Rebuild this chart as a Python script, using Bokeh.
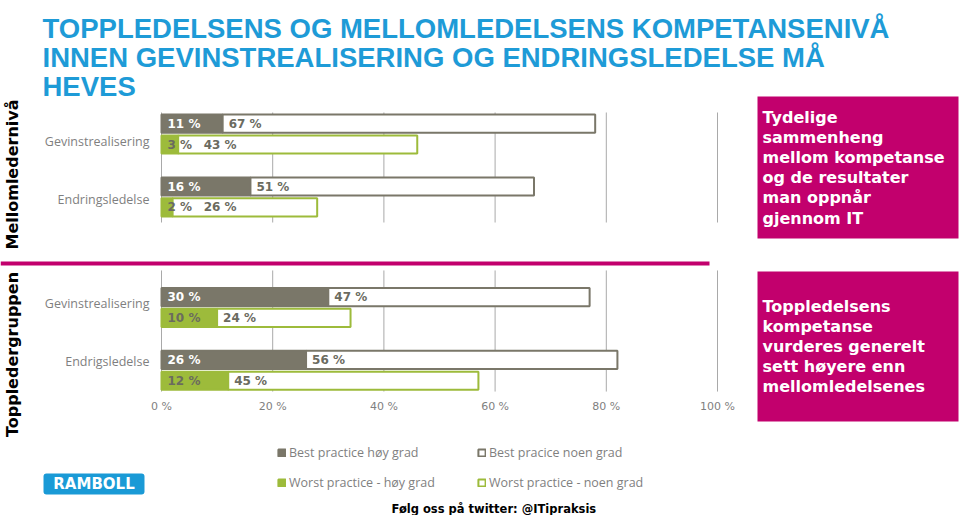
import math
from bokeh.plotting import figure
from bokeh.models import (ColumnDataSource, FactorRange, Range1d,
                          Label, BoxAnnotation, Legend, LegendItem)
from bokeh.transform import dodge
from bokeh.core.properties import value
from bokeh.embed import file_html
from bokeh.resources import INLINE

# ---------------- data ----------------
title_lines = ["TOPPLEDELSENS OG MELLOMLEDELSENS KOMPETANSENIVÅ",
               "INNEN GEVINSTREALISERING OG ENDRINGSLEDELSE MÅ",
               "HEVES"]
panels = ["Mellomledernivå", "Toppledergruppen"]
categories_mellom = ["Gevinstrealisering", "Endringsledelse"]
categories_topp = ["Gevinstrealisering", "Endrigsledelse"]
best_hoy_mellom = [11, 16]
best_noen_mellom = [67, 51]
worst_hoy_mellom = [3, 2]
worst_noen_mellom = [43, 26]
best_hoy_topp = [30, 26]
best_noen_topp = [47, 56]
worst_hoy_topp = [10, 12]
worst_noen_topp = [24, 45]
x_ticks = [0, 20, 40, 60, 80, 100]
x_tick_labels = [f"{t} %" for t in x_ticks]
series_names = ["Best practice høy grad", "Best pracice noen grad",
                "Worst practice - høy grad", "Worst practice - noen grad"]
box_texts = [["Tydelige", "sammenheng", "mellom kompetanse", "og de resultater",
              "man oppnår", "gjennom IT"],
             ["Toppledelsens", "kompetanse", "vurderes generelt", "sett høyere enn",
              "mellomledelsenes"]]
footer_text = "Følg oss på twitter: @ITipraksis"
logo_text = "RAMBOLL"

# ---------------- style / layout ----------------
W, H = 960, 515
X0_PX, PX_PER_PCT = 161.0, 5.56           # where 0 % sits, and px per percent
U = 62.8                                  # px per category unit
GROUP_PAD = 0.762
TOP_CENTER_PX = 133.4                     # centre of first category
CAT_LABEL_DY = [8, 3, -4, -9]             # fine vertical nudges of category labels (px)
DARK = "#7a7769"
GREEN = "#9dbb3b"
MAGENTA = "#c2006d"
BLUE = "#1e9bd7"
GRID = "#a9a9a9"
LABEL_GRAY = "#6b6b5f"
AXIS_GRAY = "#7f7f7f"
BAR_H = 0.29
MIN_LABEL_POS = 6.5

# ---------------- derived tables ----------------
factors_mellom = [(panels[0], c) for c in categories_mellom]
factors_topp = [(panels[1], c) for c in categories_topp]
all_f = factors_mellom + factors_topp
bh = best_hoy_mellom + best_hoy_topp
bn = best_noen_mellom + best_noen_topp
wh = worst_hoy_mellom + worst_hoy_topp
wn = worst_noen_mellom + worst_noen_topp

src = ColumnDataSource(dict(
    f=all_f, cat=[c for _, c in all_f], cat_dy=CAT_LABEL_DY,
    bh=bh, bend=[a + b for a, b in zip(bh, bn)],
    wh=wh, wend=[a + b for a, b in zip(wh, wn)],
    bh_lbl=[f"{v} %" for v in bh], bn_lbl=[f"{v} %" for v in bn],
    wh_lbl=[f"{v} %" for v in wh], wn_lbl=[f"{v} %" for v in wn],
    bn_x=[max(v, MIN_LABEL_POS) for v in bh], wn_x=[max(v, MIN_LABEL_POS) for v in wh],
))

y_factors = list(reversed(all_f))
Y_SPAN = len(y_factors) + GROUP_PAD * (len(panels) - 1)
PAD_EACH = (H / U - Y_SPAN) / 2           # absolute padding applied on each end
yr = FactorRange(factors=y_factors, factor_padding=0, group_padding=GROUP_PAD,
                 range_padding=PAD_EACH, range_padding_units="absolute")
Y_START, Y_END = -PAD_EACH, Y_SPAN + PAD_EACH
SHIFT = ((PAD_EACH + 0.5) * U - TOP_CENTER_PX) / U

XS = -X0_PX / PX_PER_PCT
XE = XS + W / PX_PER_PCT


def cx(x):
    return XS + x / PX_PER_PCT


def cy(y):
    return Y_END - y / U


def dy(px):
    """offset (px, downward) from a category centre -> dodge value"""
    return SHIFT - px / U


p = figure(width=W, height=H, x_range=Range1d(XS, XE), y_range=yr,
           output_backend="svg", toolbar_location=None, title=None,
           min_border=0, x_axis_type=None, y_axis_type=None)
p.outline_line_color = None
p.background_fill_color = "white"
p.border_fill_color = "white"
p.grid.visible = False

# grid lines drawn per panel
for facs, top_px, bot_px in [(factors_mellom, -21.4, 25.8), (factors_topp, -36.9, 21.4)]:
    gs = ColumnDataSource(dict(x=x_ticks, top=[facs[0]] * len(x_ticks),
                               bot=[facs[-1]] * len(x_ticks)))
    p.segment(x0="x", x1="x", y0=dodge("top", dy(top_px), range=yr),
              y1=dodge("bot", dy(bot_px), range=yr), source=gs,
              line_color=GRID, line_width=1)

# category labels (left of 0 %)
p.text(x=0, y=dodge("f", dy(0), range=yr), text="cat", source=src, x_offset=-12,
       y_offset="cat_dy", text_align="right", text_baseline="middle",
       text_font=value("Open Sans"), text_font_size="12.5px", text_color=AXIS_GRAY)

# x tick labels
ts = ColumnDataSource(dict(x=x_ticks, lbl=x_tick_labels, f=[all_f[-1]] * len(x_ticks)))
p.text(x="x", y=dodge("f", dy(36.5), range=yr), text="lbl", source=ts,
       text_align="center", text_baseline="middle", text_font=value("DejaVu Sans"),
       text_font_size="11px", text_color=AXIS_GRAY)

# bars
B_OFF, W_OFF = dy(-10.2), dy(10.6)
r_bh = p.hbar(y=dodge("f", B_OFF, range=yr), left=0, right="bh", height=BAR_H, source=src,
              fill_color=DARK, line_color=DARK, line_width=2)
r_bn = p.hbar(y=dodge("f", B_OFF, range=yr), left="bh", right="bend", height=BAR_H, source=src,
              fill_color="white", line_color=DARK, line_width=2)
r_wh = p.hbar(y=dodge("f", W_OFF, range=yr), left=0, right="wh", height=BAR_H, source=src,
              fill_color=GREEN, line_color=GREEN, line_width=2)
r_wn = p.hbar(y=dodge("f", W_OFF, range=yr), left="wh", right="wend", height=BAR_H, source=src,
              fill_color="white", line_color=GREEN, line_width=2)

lbl_kw = dict(source=src, x_offset=6, text_baseline="middle", text_align="left",
              text_font=value("DejaVu Sans"), text_font_style="bold", text_font_size="12px")
p.text(x=0, y=dodge("f", B_OFF, range=yr), text="bh_lbl", text_color="white", **lbl_kw)
p.text(x="bn_x", y=dodge("f", B_OFF, range=yr), text="bn_lbl", text_color=LABEL_GRAY, **lbl_kw)
p.text(x=0, y=dodge("f", W_OFF, range=yr), text="wh_lbl", text_color=LABEL_GRAY, **lbl_kw)
p.text(x="wn_x", y=dodge("f", W_OFF, range=yr), text="wn_lbl", text_color=LABEL_GRAY, **lbl_kw)

# title
for i, t in enumerate(title_lines):
    p.add_layout(Label(x=cx(42), y=cy(28 + 29 * i), text=t, text_font="Liberation Sans",
                       text_font_style="bold", text_font_size="27.5px", text_color=BLUE,
                       text_baseline="alphabetic", text_align="left"))

# panel names (rotated)
for name, yc in zip(panels, [174, 354]):
    p.add_layout(Label(x=cx(12), y=cy(yc), text=name, angle=math.pi / 2,
                       text_font="DejaVu Sans", text_font_style="bold",
                       text_font_size="16px", text_color="black",
                       text_align="center", text_baseline="middle"))

# magenta separator
p.add_layout(BoxAnnotation(left=cx(0), right=cx(709), top=cy(261), bottom=cy(265),
                           fill_color=MAGENTA, fill_alpha=1, line_color=None))

# magenta boxes with text
for lines, (top, bot) in zip(box_texts, [(96, 238), (271, 421)]):
    p.add_layout(BoxAnnotation(left=cx(757), right=cx(958), top=cy(top), bottom=cy(bot),
                               fill_color=MAGENTA, fill_alpha=1, line_color=None))
    mid = (top + bot) / 2
    n = len(lines)
    for i, t in enumerate(lines):
        p.add_layout(Label(x=cx(762), y=cy(mid + (i - (n - 1) / 2) * 20.2), text=t,
                           text_font="DejaVu Sans", text_font_style="bold",
                           text_font_size="16px", text_color="white",
                           text_align="left", text_baseline="middle"))

# legend (two columns)
leg_kw = dict(orientation="vertical", glyph_width=9, glyph_height=9, label_height=14,
              label_width=10, spacing=13, padding=0, margin=0, border_line_color=None,
              background_fill_alpha=0, label_text_font="Open Sans",
              label_text_font_size="12.5px", label_text_color=AXIS_GRAY, label_standoff=3)
leg1 = Legend(items=[LegendItem(label=series_names[0], renderers=[r_bh]),
                     LegendItem(label=series_names[2], renderers=[r_wh])],
              location=(277, H - 491), **leg_kw)
leg2 = Legend(items=[LegendItem(label=series_names[1], renderers=[r_bn]),
                     LegendItem(label=series_names[3], renderers=[r_wn])],
              location=(477, H - 491), **leg_kw)
p.add_layout(leg1)
p.add_layout(leg2)

# logo
p.add_layout(BoxAnnotation(left=cx(43), right=cx(144), top=cy(473), bottom=cy(494),
                           fill_color="#1a9ad6", fill_alpha=1, line_color=None, border_radius=3))
p.add_layout(Label(x=cx(93.5), y=cy(483.5), text=logo_text, text_font="DejaVu Sans",
                   text_font_style="bold", text_font_size="15px", text_color="white",
                   text_align="center", text_baseline="middle"))

# footer
p.add_layout(Label(x=cx(391), y=cy(508), text=footer_text, text_font="DejaVu Sans",
                   text_font_style="bold", text_font_size="11.5px", text_color="black",
                   text_align="left", text_baseline="middle"))

open("out.html", "w").write(file_html(p, INLINE))
